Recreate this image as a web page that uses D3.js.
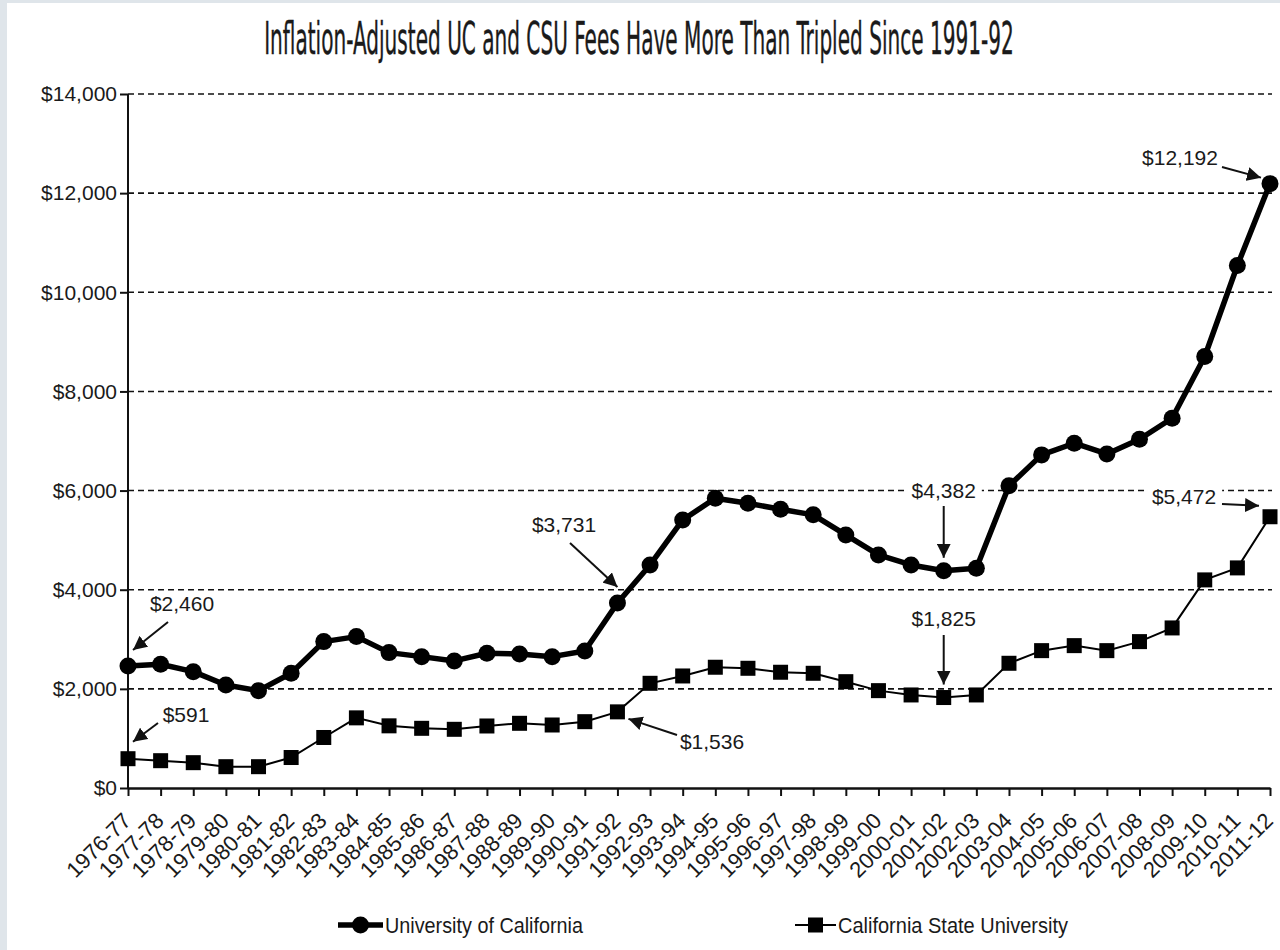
<!DOCTYPE html>
<html>
<head>
<meta charset="utf-8">
<script src="https://cdn.jsdelivr.net/npm/d3@7"></script>
<style>
  html, body { margin: 0; padding: 0; background: #fff; }
  svg { display: block; }
  text { font-family: "Liberation Sans", Arial, sans-serif; fill: #1a1a1a; }
</style>
</head>
<body>
<svg id="chart" width="1280" height="950"></svg>
<script>
// ---- data ----
const years = ["1976-77","1977-78","1978-79","1979-80","1980-81","1981-82","1982-83","1983-84","1984-85","1985-86","1986-87","1987-88","1988-89","1989-90","1990-91","1991-92","1992-93","1993-94","1994-95","1995-96","1996-97","1997-98","1998-99","1999-00","2000-01","2001-02","2002-03","2003-04","2004-05","2005-06","2006-07","2007-08","2008-09","2009-10","2010-11","2011-12"];
const ucFees  = [2460,2496,2347,2079,1964,2314,2953,3054,2731,2650,2563,2718,2704,2650,2765,3731,4500,5408,5845,5744,5623,5510,5106,4702,4500,4382,4434,6095,6720,6955,6740,7036,7460,8705,10540,12192];
const csuFees = [591,551,511,430,430,615,1019,1415,1254,1204,1184,1251,1305,1271,1338,1536,2112,2260,2436,2415,2335,2314,2145,1964,1877,1825,1877,2516,2771,2872,2771,2953,3229,4198,4440,5472];
const yTicks = [0,2000,4000,6000,8000,10000,12000,14000];
const seriesNames = ["University of California","California State University"];
const titleText = "Inflation-Adjusted UC and CSU Fees Have More Than Tripled Since 1991-92";
// annotations: [yearIndex, label]
const annoUC  = [[0,"$2,460"],[15,"$3,731"],[25,"$4,382"],[35,"$12,192"]];
const annoCSU = [[0,"$591"],[15,"$1,536"],[25,"$1,825"],[35,"$5,472"]];

// ---- drawing ----
const svg = d3.select("#chart");
svg.append("rect").attr("width",1280).attr("height",950).attr("fill","#dfe5ea");
svg.append("rect").attr("x",7).attr("y",3).attr("width",1273).attr("height",947).attr("fill","#fff");

const defs = svg.append("defs");
defs.append("marker").attr("id","arr").attr("viewBox","0 0 10 10")
  .attr("refX",10).attr("refY",5).attr("markerWidth",14).attr("markerHeight",14)
  .attr("markerUnits","userSpaceOnUse").attr("orient","auto")
  .append("path").attr("d","M0,0 L10,5 L0,10 z").attr("fill","#111");

const x = d3.scalePoint().domain(years).range([128, 1270]);
const y = d3.scaleLinear().domain([0, 14000]).range([788, 94]);

// title (horizontally compressed to the reference width)
const title = svg.append("text")
  .attr("text-anchor","middle")
  .attr("font-size", 44)
  .attr("stroke","#1a1a1a").attr("stroke-width",0.4)
  .style("font-family","'Liberation Sans Narrow','DejaVu Sans Condensed','Liberation Sans',sans-serif")
  .text(titleText);
const tw = title.node().getComputedTextLength();
title.attr("transform", `translate(639,54) scale(${750 / tw},1)`);

// gridlines
svg.append("g").selectAll("line").data(yTicks.filter(d => d > 0)).join("line")
  .attr("x1", 128).attr("x2", 1272)
  .attr("y1", d => y(d)).attr("y2", d => y(d))
  .attr("stroke","#111").attr("stroke-width",1.6).attr("stroke-dasharray","6,4");

// y axis
const yAxis = svg.append("g").attr("transform","translate(128,0)")
  .call(d3.axisLeft(y).tickValues(yTicks).tickSize(8).tickPadding(3)
    .tickFormat(d => "$" + d3.format(",")(d)));
yAxis.select(".domain").attr("stroke","#111").attr("stroke-width",2).attr("d","M0,788V94");
yAxis.selectAll(".tick line").attr("stroke","#111").attr("stroke-width",2);
yAxis.selectAll(".tick text").attr("font-size",21).attr("fill","#1a1a1a")
  .style("font-family","'Liberation Sans',Arial,sans-serif");

// x axis
const xAxis = svg.append("g").attr("transform","translate(0,788)")
  .call(d3.axisBottom(x).tickSize(8).tickSizeOuter(0));
xAxis.select(".domain").attr("stroke","#111").attr("stroke-width",2.5);
xAxis.selectAll(".tick line").attr("stroke","#111").attr("stroke-width",2);
xAxis.selectAll(".tick text")
  .attr("font-size",22).attr("fill","#1a1a1a")
  .style("font-family","'Liberation Sans',Arial,sans-serif")
  .attr("text-anchor","end")
  .attr("transform","translate(4,34) rotate(-45)")
  .attr("x",0).attr("y",0).attr("dy","0");

// lines
const lineGen = d3.line().x((d,i) => x(years[i])).y(d => y(d));
svg.append("path").datum(ucFees).attr("d", lineGen)
  .attr("fill","none").attr("stroke","#000").attr("stroke-width",5.5).attr("stroke-linejoin","round");
svg.append("path").datum(csuFees).attr("d", lineGen)
  .attr("fill","none").attr("stroke","#000").attr("stroke-width",2);

svg.append("g").selectAll("circle").data(ucFees).join("circle")
  .attr("cx",(d,i) => x(years[i])).attr("cy", d => y(d)).attr("r",8.5).attr("fill","#000");
const sq = 15;
svg.append("g").selectAll("rect").data(csuFees).join("rect")
  .attr("x",(d,i) => x(years[i]) - sq/2).attr("y", d => y(d) - sq/2)
  .attr("width",sq).attr("height",sq).attr("fill","#000");

// annotations
function annot(label, tx, ty, x1, y1, x2, y2, bg) {
  const g = svg.append("g");
  const t = g.append("text").attr("x",tx).attr("y",ty).attr("text-anchor","middle")
    .attr("dy","0.35em").attr("font-size",21).text(label);
  if (bg) {
    const b = t.node().getBBox();
    g.insert("rect","text").attr("x",b.x-6).attr("y",b.y).attr("width",b.width+12).attr("height",b.height).attr("fill","#fff");
  }
  g.append("line").attr("x1",x1).attr("y1",y1).attr("x2",x2).attr("y2",y2)
    .attr("stroke","#111").attr("stroke-width",2).attr("marker-end","url(#arr)");
}
{
  const px0 = x(years[annoUC[0][0]]), py0 = y(ucFees[annoUC[0][0]]);
  annot(annoUC[0][1], 182, 604, 168, 622, px0 + 5, py0 - 16, true);
  const px1 = x(years[annoUC[1][0]]), py1 = y(ucFees[annoUC[1][0]]);
  annot(annoUC[1][1], 564, 525, 570, 543, px1 + 0, py1 - 16, false);
  const px2 = x(years[annoUC[2][0]]), py2 = y(ucFees[annoUC[2][0]]);
  annot(annoUC[2][1], px2, 491, px2, 506, px2, py2 - 13, true);
  const px3 = x(years[annoUC[3][0]]), py3 = y(ucFees[annoUC[3][0]]);
  annot(annoUC[3][1], 1180, 158, 1222, 167, px3 - 9, py3 - 6, false);
}
{
  const px0 = x(years[annoCSU[0][0]]), py0 = y(csuFees[annoCSU[0][0]]);
  annot(annoCSU[0][1], 186, 715, 158, 723, px0 + 5, py0 - 17, false);
  const px1 = x(years[annoCSU[1][0]]), py1 = y(csuFees[annoCSU[1][0]]);
  annot(annoCSU[1][1], 712, 742, 677, 735, px1 + 11, py1 + 7, false);
  const px2 = x(years[annoCSU[2][0]]), py2 = y(csuFees[annoCSU[2][0]]);
  annot(annoCSU[2][1], px2, 619, px2, 635, px2, py2 - 13, false);
  const px3 = x(years[annoCSU[3][0]]), py3 = y(csuFees[annoCSU[3][0]]);
  annot(annoCSU[3][1], 1184, 497, 1222, 504, px3 - 11, py3 - 11, true);
}

// legend
const ly = 925;
const lg = svg.append("g");
lg.append("line").attr("x1",338).attr("x2",383).attr("y1",ly).attr("y2",ly).attr("stroke","#000").attr("stroke-width",5.5);
lg.append("circle").attr("cx",360.5).attr("cy",ly).attr("r",8.5).attr("fill","#000");
lg.append("text").attr("x",385).attr("y",ly).attr("dy","0.35em").attr("font-size",22)
  .attr("textLength",198).attr("lengthAdjust","spacingAndGlyphs").text(seriesNames[0]);
lg.append("line").attr("x1",795).attr("x2",836).attr("y1",ly).attr("y2",ly).attr("stroke","#000").attr("stroke-width",2);
lg.append("rect").attr("x",815.5-sq/2).attr("y",ly-sq/2).attr("width",sq).attr("height",sq).attr("fill","#000");
lg.append("text").attr("x",838).attr("y",ly).attr("dy","0.35em").attr("font-size",22)
  .attr("textLength",230).attr("lengthAdjust","spacingAndGlyphs").text(seriesNames[1]);
</script>
</body>
</html>
